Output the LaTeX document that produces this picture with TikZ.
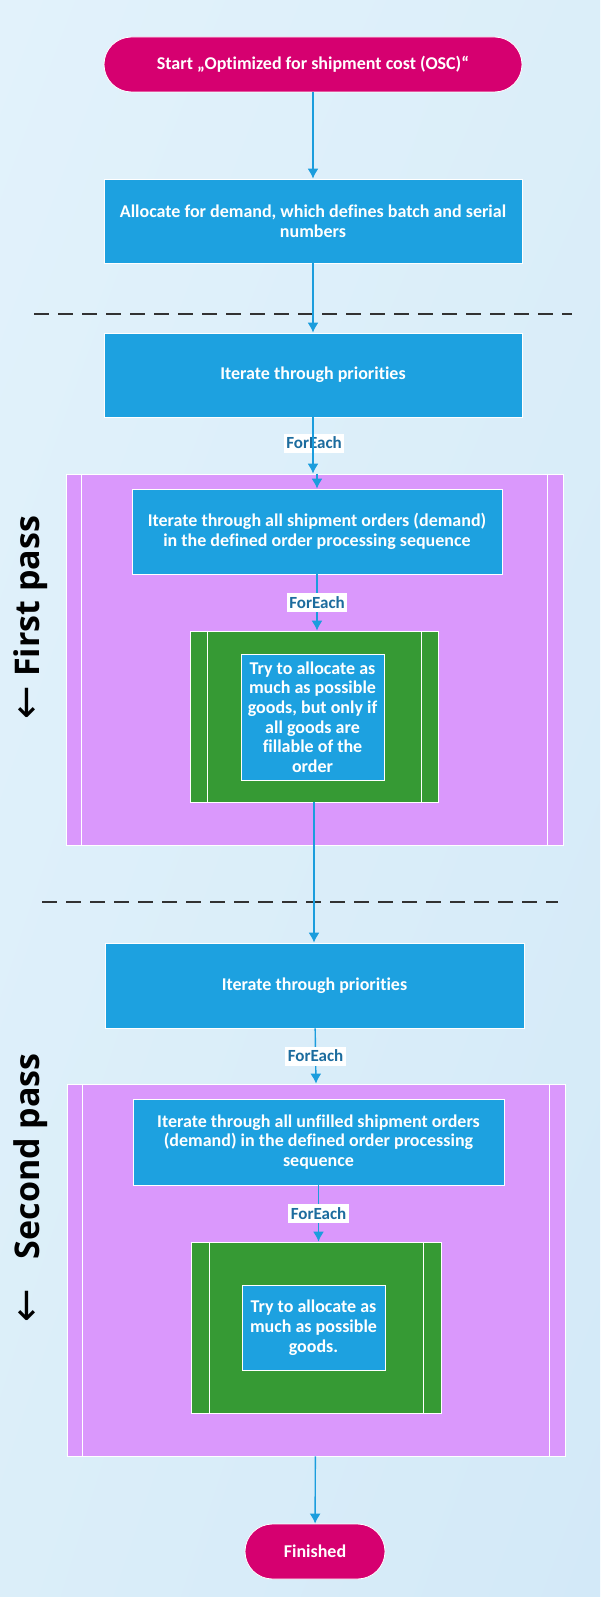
\documentclass[tikz,border=0pt]{standalone}
\usepackage{fontspec}
\setmainfont{Carlito}[Ligatures=NoCommon]
\newfontfamily\passfont{Open Sans}
\newfontfamily\arrowfont{DejaVu Sans}
\usepackage{tikz}
\usetikzlibrary{arrows.meta,shadings}
\definecolor{bgtop}{RGB}{226,242,251}
\definecolor{bgmid}{RGB}{219,238,249}
\definecolor{bgbot}{RGB}{211,233,248}
\definecolor{stepblue}{RGB}{29,161,224}
\definecolor{termred}{RGB}{214,0,112}
\definecolor{looppurple}{RGB}{218,152,252}
\definecolor{loopgreen}{RGB}{54,154,52}
\definecolor{edgeblue}{RGB}{27,157,221}
\definecolor{labelblue}{RGB}{28,108,158}
\definecolor{dashgrey}{RGB}{50,50,50}

\begin{document}
\begin{tikzpicture}[x=1pt,y=-1pt]
\tikzset{box/.style = {shape=rectangle,draw=white,line width=0.8pt,fill=stepblue,text=white,
  font=\bfseries\fontsize{18}{19.7}\selectfont,align=center,inner sep=0pt}}
\tikzset{terminal/.style = {box,fill=termred,rounded corners=27.5pt,minimum height=55pt}}
\tikzset{loopbox/.style = {shape=rectangle,draw=white,line width=0.8pt,inner sep=0pt}}
\tikzset{foreach/.style = {fill=white,text=labelblue,font=\bfseries\fontsize{17}{17}\selectfont,
  inner xsep=2.5pt,inner ysep=0pt,minimum height=19pt}}
\tikzset{passlabel/.style = {rotate=90,font=\passfont\bfseries\fontsize{34}{34}\selectfont}}
\tikzset{divider/.style = {draw=white,line width=0.8pt}}
\tikzset{dashline/.style = {draw=dashgrey,line width=2pt,dash pattern=on 15pt off 9pt}}
\tikzset{edge/.style = {->,> = {Latex[length=10pt,width=11pt]},draw=edgeblue,line width=1.4pt}}
% background
\shade[upper left=bgtop,upper right=bgmid,lower left=bgmid,lower right=bgbot] (0,0) rectangle (600,1597);
\useasboundingbox (0,0) rectangle (600,1597);
% separators
\coordinate (s1a) at (34,314);
\coordinate (s1b) at (572,314);
\coordinate (s2a) at (42,902);
\coordinate (s2b) at (558,902);
\draw[dashline] (s1a) -- (s1b);
\draw[dashline] (s2a) -- (s2b);
% vertices
\node[terminal,minimum width=418pt] (start) at (313,64.5) {Start „Optimized for shipment cost (OSC)“};
\node[box,minimum width=418pt,minimum height=84pt] (alloc) at (313,221) {Allocate for demand, which defines batch and serial\\numbers};
\node[box,minimum width=418pt,minimum height=84pt] (prio1) at (313,375) {Iterate through priorities};
\node[loopbox,fill=looppurple,minimum width=497pt,minimum height=371pt] (pass1) at (314.5,659.5) {};
\node[box,minimum width=370pt,minimum height=85pt] (ship1) at (317,531.5) {Iterate through all shipment orders (demand)\\in the defined order processing sequence};
\node[loopbox,fill=loopgreen,minimum width=248pt,minimum height=171pt] (green1) at (314,716.5) {};
\node[box,minimum width=143pt,minimum height=126pt] (try1) at (312.5,717) {Try to allocate as\\much as possible\\goods, but only if\\all goods are\\fillable of the\\order};
\node[box,minimum width=419pt,minimum height=85pt] (prio2) at (314.5,985.5) {Iterate through priorities};
\node[loopbox,fill=looppurple,minimum width=498pt,minimum height=372pt] (pass2) at (316,1270) {};
\node[box,minimum width=371pt,minimum height=86pt] (ship2) at (318.5,1142) {Iterate through all unfilled shipment orders\\(demand) in the defined order processing\\sequence};
\node[loopbox,fill=loopgreen,minimum width=250pt,minimum height=171pt] (green2) at (316,1327.5) {};
\node[box,minimum width=143pt,minimum height=85pt] (try2) at (313.5,1327.5) {Try to allocate as\\much as possible\\goods.};
\node[terminal,minimum width=140pt] (fin) at (315,1551.5) {Finished};
% loop borders
\draw[divider] ([xshift=16pt]pass1.north west) -- ([xshift=16pt]pass1.south west);
\draw[divider] ([xshift=-16pt]pass1.north east) -- ([xshift=-16pt]pass1.south east);
\draw[divider] ([xshift=18pt]green1.north west) -- ([xshift=18pt]green1.south west);
\draw[divider] ([xshift=-17pt]green1.north east) -- ([xshift=-17pt]green1.south east);
\draw[divider] ([xshift=16pt]pass2.north west) -- ([xshift=16pt]pass2.south west);
\draw[divider] ([xshift=-16pt]pass2.north east) -- ([xshift=-16pt]pass2.south east);
\draw[divider] ([xshift=19pt]green2.north west) -- ([xshift=19pt]green2.south west);
\draw[divider] ([xshift=-18pt]green2.north east) -- ([xshift=-18pt]green2.south east);
% pass labels
\node[passlabel] (firstpass) at (31,617.5) {{\arrowfont\mdseries\fontsize{40}{40}\selectfont ←} First pass};
\node[passlabel] (secondpass) at (31,1188) {{\arrowfont\mdseries\fontsize{40}{40}\selectfont ←}\hspace{30pt}Second pass};
\node[foreach] (fe1) at (314,443) {ForEach};

%edges
\draw[edge] (start) -- (alloc);
\draw[edge] (alloc) -- (prio1);
\draw[edge] (prio1) -- (prio1 |- pass1.north);
\draw[edge] (ship1 |- pass1.north) -- (ship1);
\draw[edge] (ship1) -- node[foreach] (fe2) {ForEach} (ship1 |- green1.north);
\draw[edge] (green1) -- (green1 |- prio2.north);
\draw[edge] (prio2) -- node[foreach] (fe3) {ForEach} (pass2 |- pass2.north);
\draw[edge] (ship2) -- node[foreach] (fe4) {ForEach} (ship2 |- green2.north);
\draw[edge] (pass2) -- (fin);
\end{tikzpicture}
\end{document}
